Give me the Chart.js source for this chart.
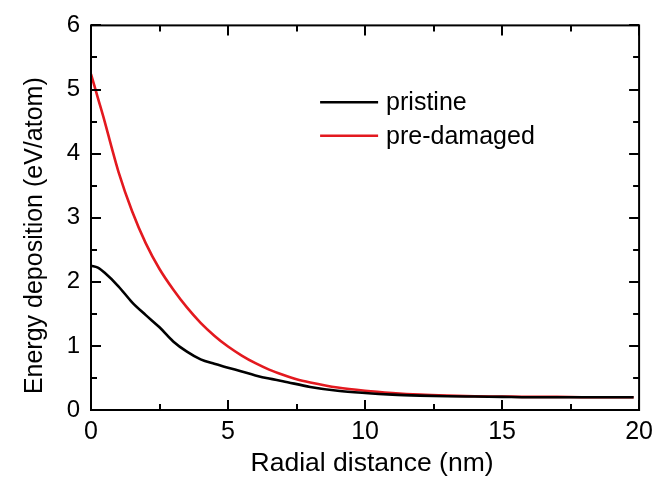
<!DOCTYPE html>
<html>
<head>
<meta charset="utf-8">
<script src="https://cdn.jsdelivr.net/npm/chart.js@4.4.0/dist/chart.umd.min.js"></script>
<style>
  html, body { margin: 0; padding: 0; background: #fff; }
  #wrap { width: 660px; height: 482px; }
</style>
</head>
<body>
<div id="wrap"><canvas id="myChart"></canvas></div>
<script>
  // radial distance (nm) and energy deposition (eV/atom)
  let pristineX = [0, 0.25, 0.5, 1, 1.5, 2, 2.5, 3, 3.5, 4, 4.5, 5, 5.5, 6, 6.5, 7, 8, 9, 10, 11, 12, 13, 14, 15, 16, 17, 18, 19, 19.8];
  let pristineY = [2.25, 2.22, 2.14, 1.93, 1.68, 1.48, 1.29, 1.07, 0.91, 0.79, 0.72, 0.66, 0.6, 0.54, 0.49, 0.45, 0.36, 0.3, 0.265, 0.24, 0.225, 0.215, 0.21, 0.205, 0.2, 0.2, 0.2, 0.2, 0.2];

  let damagedX = [0, 0.25, 0.5, 0.75, 1, 1.5, 2, 2.5, 3, 3.5, 4, 4.5, 5, 5.5, 6, 6.5, 7, 7.5, 8, 9, 10, 11, 12, 13, 14, 15, 16, 17, 18, 19, 19.8];
  let damagedY = [5.24, 4.87, 4.5, 4.1, 3.72, 3.1, 2.6, 2.2, 1.88, 1.6, 1.36, 1.16, 0.99, 0.85, 0.73, 0.63, 0.55, 0.48, 0.43, 0.35, 0.3, 0.265, 0.24, 0.225, 0.215, 0.21, 0.205, 0.205, 0.2, 0.2, 0.2];

  let seriesNames = ["pristine", "pre-damaged"];
  let seriesColors = ["#000000", "#e3191f"];

  let xTitle = "Radial distance (nm)";
  let yTitle = "Energy deposition (eV/atom)";

  const FONT = "'Liberation Sans', Arial, Helvetica, sans-serif";

  function toPoints(xs, ys) {
    return xs.map((x, i) => ({ x: x, y: ys[i] }));
  }

  // frame + inward major/minor ticks on all four sides
  const frameTicks = {
    id: 'frameTicks',
    afterDraw(chart) {
      const c = chart.ctx;
      const a = chart.chartArea;
      const xs = chart.scales.x, ys = chart.scales.y;
      c.save();
      c.strokeStyle = '#000';
      c.lineWidth = 2;
      c.strokeRect(a.left, a.top, a.right - a.left, a.bottom - a.top);
      const major = 10, minor = 6;
      for (let v = 0; v <= 20.001; v += 2.5) {
        const px = Math.round(xs.getPixelForValue(v));
        const len = (v % 5 === 0) ? major : minor;
        c.beginPath();
        c.moveTo(px, a.bottom); c.lineTo(px, a.bottom - len);
        c.moveTo(px, a.top); c.lineTo(px, a.top + len);
        c.stroke();
      }
      for (let v = 0; v <= 6.001; v += 0.5) {
        const py = Math.round(ys.getPixelForValue(v));
        const len = (Math.abs(v - Math.round(v)) < 0.01) ? major : minor;
        c.beginPath();
        c.moveTo(a.left, py); c.lineTo(a.left + len, py);
        c.moveTo(a.right, py); c.lineTo(a.right - len, py);
        c.stroke();
      }
      c.restore();
    }
  };

  // axis titles, placed like the original figure
  const axisTitles = {
    id: 'axisTitles',
    afterDraw(chart) {
      const c = chart.ctx;
      const a = chart.chartArea;
      c.save();
      c.fillStyle = '#000';
      c.textAlign = 'center';
      c.textBaseline = 'middle';
      c.font = "26.5px " + FONT;
      c.fillText(xTitle, (a.left + a.right) / 2 + 7, a.bottom + 54);
      c.translate(35, (a.top + a.bottom) / 2 + 18);
      c.rotate(-Math.PI / 2);
      c.font = "25px " + FONT;
      c.fillText(yTitle, 0, 0);
      c.restore();
    }
  };

  // legend drawn inside the plot area
  const innerLegend = {
    id: 'innerLegend',
    afterDraw(chart) {
      const c = chart.ctx;
      const a = chart.chartArea;
      const w = a.right - a.left, h = a.bottom - a.top;
      const x0 = a.left + w * 0.418;
      const lineLen = 58;
      const y0 = a.top + h * 0.2;
      const gap = 33.5;
      c.save();
      c.font = "25px " + FONT;
      c.textBaseline = 'middle';
      chart.data.datasets.forEach((ds, i) => {
        const y = y0 + i * gap;
        c.strokeStyle = ds.borderColor;
        c.lineWidth = 2.5;
        c.beginPath();
        c.moveTo(x0, y); c.lineTo(x0 + lineLen, y);
        c.stroke();
        c.fillStyle = '#000';
        c.fillText(ds.label, x0 + lineLen + 8, y + 1);
      });
      c.restore();
    }
  };

  const ctx = document.getElementById('myChart');

  let data = {
    datasets: [
      {
        label: seriesNames[0],
        data: toPoints(pristineX, pristineY),
        borderColor: seriesColors[0],
        borderWidth: 2.6,
        pointRadius: 0,
        cubicInterpolationMode: 'monotone',
        fill: false
      },
      {
        label: seriesNames[1],
        data: toPoints(damagedX, damagedY),
        borderColor: seriesColors[1],
        borderWidth: 2.6,
        pointRadius: 0,
        cubicInterpolationMode: 'monotone',
        fill: false
      }
    ]
  };

  let configuration = {
    type: 'line',
    data: data,
    options: {
      responsive: true,
      maintainAspectRatio: false,
      animation: false,
      layout: { padding: { top: 21, right: 17, left: 0, bottom: 0 } },
      plugins: {
        legend: { display: false },
        tooltip: { enabled: false }
      },
      scales: {
        x: {
          type: 'linear',
          min: 0,
          max: 20,
          grid: { display: false, drawTicks: false },
          border: { display: false },
          ticks: {
            stepSize: 5,
            color: '#000',
            padding: 7,
            font: { family: FONT, size: 25 },
            maxRotation: 0
          },
          afterFit(scale) { scale.height = 72; }
        },
        y: {
          type: 'linear',
          min: 0,
          max: 6,
          grid: { display: false, drawTicks: false },
          border: { display: false },
          ticks: {
            stepSize: 1,
            color: '#000',
            padding: 11,
            font: { family: FONT, size: 24 }
          },
          afterFit(scale) { scale.width = 91; }
        }
      }
    },
    plugins: [frameTicks, axisTitles, innerLegend]
  };

  new Chart(ctx, configuration);
</script>
</body>
</html>
